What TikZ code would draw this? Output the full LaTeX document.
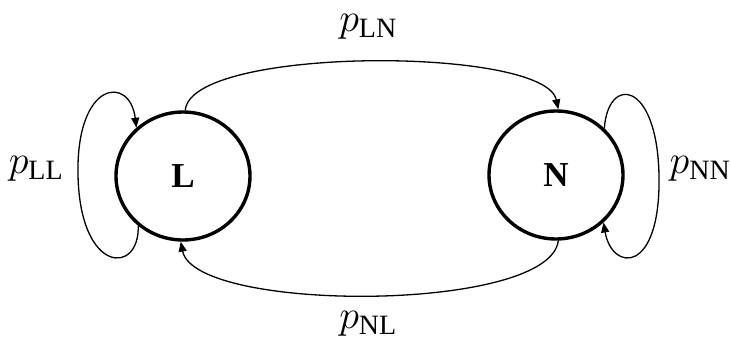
\RequirePackage{fix-cm}
\documentclass[tikz,border=0pt]{standalone}
\usepackage{fontspec}
\setmainfont{Liberation Serif}
\usetikzlibrary{arrows.meta,shapes.geometric}
\begin{document}
\begin{tikzpicture}[x=1pt,y=-1pt,
  state/.style={ellipse,draw,line width=3.4pt,minimum width=134pt,minimum height=128pt,inner sep=0pt,font=\bfseries\fontsize{35}{38}\selectfont},
  conn/.style={line width=1.3pt,-{Triangle[length=10pt,width=8pt]}},
  lbl/.style={font=\fontsize{40}{42}\selectfont,inner sep=0pt}]
\useasboundingbox (0,0) rectangle (731,341);
\node[state] (L) at (183,176) {L};
\node[state] (N) at (556,175) {N};
\node[lbl] (pLL) at (36,169) {$p_{\mathrm{LL}}$};
\node[lbl] (pNN) at (700,169) {$p_{\mathrm{NN}}$};
\node[lbl] (pLN) at (368,27) {$p_{\mathrm{LN}}$};
\node[lbl] (pNL) at (368,324) {$p_{\mathrm{NL}}$};
\draw[conn] (L.88) .. controls (190,46) and (545,46) .. (N.88);
\draw[conn] (N.272) .. controls (550,313) and (195,313) .. (L.268);
\coordinate (lw) at (78,175);
\coordinate (ne) at (659,175);
\draw[conn] (L.228) .. controls (140,275) and (80,275) .. (lw) .. controls (76,80) and (130,75) .. (L.134);
\draw[conn] (N.44) .. controls (608,75) and (657,80) .. (ne) .. controls (661,275) and (612,272) .. (N.-45);
\end{tikzpicture}
\end{document}
